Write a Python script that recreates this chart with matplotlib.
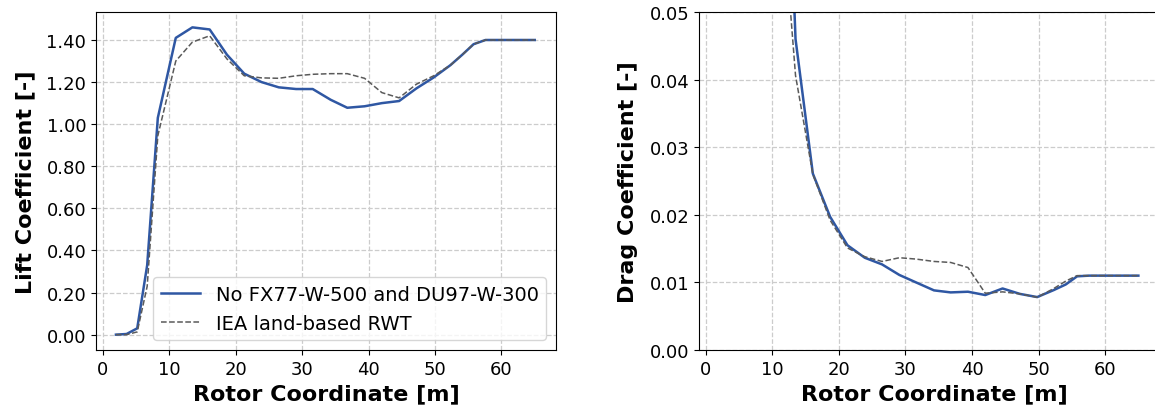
import numpy as np
import matplotlib
matplotlib.use('Agg')
import matplotlib.pyplot as plt
from matplotlib.ticker import FormatStrFormatter

# rotor stations [m]
r = [2.0, 3.6, 5.2, 6.7, 8.3, 11.0, 13.5, 16.1, 18.7, 21.3, 23.9, 26.5, 29.1,
     31.6, 34.3, 36.8, 39.4, 42.0, 44.6, 47.2, 49.8, 52.3, 54.1, 55.8, 57.6, 65.0]

# lift coefficient
cl_new = [0.0, 0.003, 0.03, 0.33, 1.03, 1.41, 1.46, 1.45, 1.33, 1.24, 1.20, 1.175, 1.167,
          1.167, 1.116, 1.078, 1.085, 1.10, 1.11, 1.17, 1.222, 1.28, 1.33, 1.38, 1.40, 1.40]
cl_iea = [0.0, 0.0, 0.013, 0.23, 0.945, 1.30, 1.39, 1.42, 1.31, 1.23, 1.22, 1.218, 1.23,
          1.237, 1.24, 1.24, 1.218, 1.15, 1.125, 1.19, 1.23, 1.28, 1.33, 1.38, 1.40, 1.40]

# drag coefficient
cd_new = [0.5, 0.5, 0.45, 0.35, 0.2, 0.11, 0.046, 0.0261, 0.0197, 0.0155, 0.01365, 0.01266,
          0.0111, 0.0100, 0.00882, 0.00852, 0.00862, 0.00813, 0.0091, 0.0083, 0.00783,
          0.00887, 0.0097, 0.0109, 0.011, 0.011]
cd_iea = [0.5, 0.5, 0.45, 0.35, 0.2, 0.072, 0.0406, 0.026, 0.0192, 0.0151, 0.0138, 0.0131,
          0.01365, 0.01345, 0.0131, 0.01295, 0.0122, 0.0084, 0.0086, 0.0083, 0.0078,
          0.0091, 0.0102, 0.011, 0.011, 0.011]

plt.rcParams['font.family'] = 'DejaVu Sans'

fig = plt.figure(figsize=(11.55, 4.1), dpi=100)
ax1 = fig.add_axes([96/1155, 59/410, 460/1155, 338/410])
ax2 = fig.add_axes([699/1155, 59/410, 470/1155, 338/410])

blue = '#2f57a3'
grey = '#5a5a5a'

ax1.plot(r, cl_new, color=blue, lw=1.8, label='No FX77-W-500 and DU97-W-300')
ax1.plot(r, cl_iea, color=grey, lw=1.1, ls='--', label='IEA land-based RWT')
ax1.set_ylabel('Lift Coefficient [-]', fontsize=16, fontweight='bold', labelpad=8)
ax1.yaxis.set_major_formatter(FormatStrFormatter('%.2f'))
ax1.set_xlim(-1.0, 68.2)
ax1.legend(loc='lower right', fontsize=14)

ax2.plot(r, cd_new, color=blue, lw=1.8)
ax2.plot(r, cd_iea, color=grey, lw=1.1, ls='--')
ax2.set_ylim(0, 0.05)
ax2.set_xlim(-1.0, 69.6)
ax2.set_ylabel('Drag Coefficient [-]', fontsize=16, fontweight='bold', labelpad=8)
ax2.yaxis.set_major_formatter(FormatStrFormatter('%.2f'))

for ax in (ax1, ax2):
    ax.set_xticks([0, 10, 20, 30, 40, 50, 60])
    ax.set_xlabel('Rotor Coordinate [m]', fontsize=16, fontweight='bold')
    ax.tick_params(labelsize=13)
    ax.grid(True, ls='--', color='#cccccc', lw=0.9)
    ax.set_axisbelow(True)

fig.savefig('out.png', dpi=100)
